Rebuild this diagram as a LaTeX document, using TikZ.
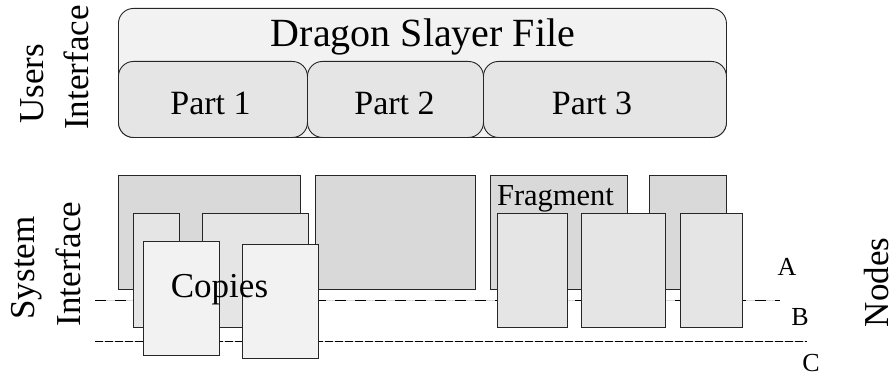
\documentclass[tikz,border=0pt]{standalone}
\usepackage{fontspec}
\setmainfont{Liberation Serif}
\begin{document}
\begin{tikzpicture}[x=1pt,y=-1pt,
  blk/.style={draw=black!85, line width=0.9pt, inner sep=0pt, anchor=north west},
  roundblk/.style={blk, rounded corners=15pt},
  dark/.style={fill=black!15},
  mid/.style={fill=black!10},
  light/.style={fill=black!5},
  lbl/.style={anchor=base, inner sep=0pt, font=\fontsize{#1}{#1}\selectfont},
  sidelbl/.style={lbl=35, rotate=90},
  guide/.style={black!15, line width=0.8pt},
  dashline/.style={black, line width=0.9pt, dash pattern=on 11pt off 9pt},
  halfdash/.style={black, line width=0.8pt, dash pattern=on 8pt off 12pt}
]
\useasboundingbox (0,0) rectangle (896,377);

% ---- user side: the file and its parts ----
\node[roundblk, light, minimum width=608pt, minimum height=129pt] (file) at (118,8) {};
\node[roundblk, mid, minimum width=189pt, minimum height=76pt] (part1) at (118,61) {};
\node[roundblk, mid, minimum width=176pt, minimum height=76pt] (part2) at (307,61) {};
\node[roundblk, mid, minimum width=243pt, minimum height=76pt] (part3) at (483,61) {};

\node[lbl=40] (title) at (423,47) {Dragon Slayer File};
\node[lbl=34] (p1) at (210.5,115) {Part 1};
\node[lbl=34] (p2) at (394.5,115) {Part 2};
\node[lbl=34] (p3) at (592,115) {Part 3};

\node[sidelbl] (users) at (43,84) {Users};
\node[sidelbl] (uiface) at (88,67.5) {Interface};

% ---- storage levels ----
\coordinate (aw) at (95,300);  \coordinate (ae) at (780,300);
\coordinate (bw) at (95,341);  \coordinate (be) at (807,341);
\draw[guide] (aw) -- (ae);
\draw[dashline] (aw) -- (ae);
\draw[guide] (bw) -- (be);
\draw[halfdash, yshift=0.8pt] (bw) -- (be);
\draw[halfdash, yshift=-0.8pt, dash phase=10pt] (bw) -- (be);

% ---- system side: fragments, placements and copies ----
\node[blk, dark, minimum width=182pt, minimum height=114pt] (frag1) at (118,175) {};
\node[blk, dark, minimum width=160pt, minimum height=114pt] (frag2) at (315,175) {};
\node[blk, dark, minimum width=137pt, minimum height=114pt] (frag3) at (490,175) {};
\node[blk, dark, minimum width=77pt,  minimum height=114pt] (frag4) at (649,175) {};

\node[blk, mid, minimum width=46pt,  minimum height=114pt] (blkA) at (133,213) {};
\node[blk, mid, minimum width=106pt, minimum height=114pt] (blkB) at (202,213) {};
\node[blk, mid, minimum width=70pt,  minimum height=114pt] (blkC) at (497,213) {};
\node[blk, mid, minimum width=84pt,  minimum height=114pt] (blkD) at (581,213) {};
\node[blk, mid, minimum width=62pt,  minimum height=114pt] (blkE) at (680,213) {};

\node[blk, light, minimum width=76pt, minimum height=114pt] (copy1) at (143,241) {};
\node[blk, light, minimum width=76pt, minimum height=114pt] (copy2) at (242,244) {};

\node[lbl=35] (copies) at (219.5,297) {Copies};
\node[lbl=30.5] (fragment) at (555.5,205) {Fragment};

\node[lbl=26] (levA) at (787,275.7) {A};
\node[lbl=26] (levB) at (800,325) {B};
\node[lbl=26] (levC) at (811,371.7) {C};

\node[sidelbl] (system) at (34,268) {System};
\node[sidelbl] (siface) at (80,264) {Interface};
\node[sidelbl] (nodes) at (888,282.5) {Nodes};
\end{tikzpicture}
\end{document}
